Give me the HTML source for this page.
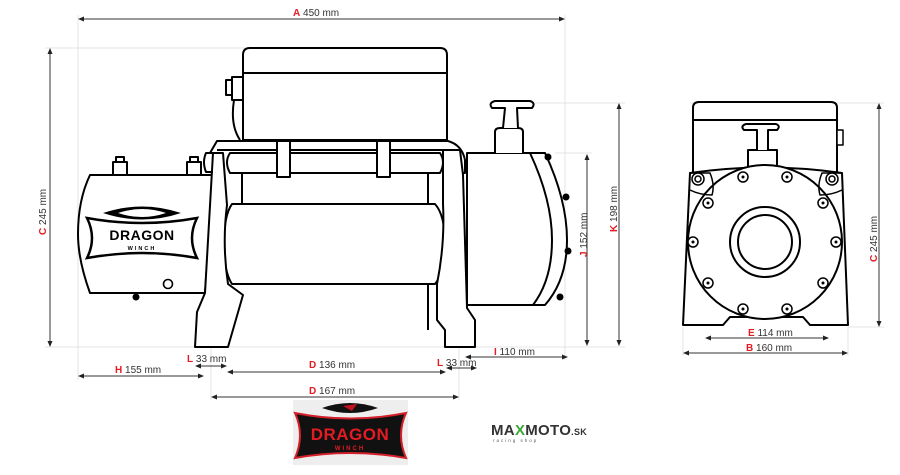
<!DOCTYPE html>
<html><head><meta charset="utf-8"><style>
html,body{margin:0;padding:0;background:#fff;}
svg{display:block;}
text{font-family:"Liberation Sans",sans-serif;}
</style></head><body>
<svg width="900" height="475" viewBox="0 0 900 475" xmlns="http://www.w3.org/2000/svg">
<defs>
<marker id="ar" markerWidth="6" markerHeight="6" refX="5" refY="3" orient="auto-start-reverse" markerUnits="userSpaceOnUse"><path d="M0,0.5 L6,3 L0,5.5 z" fill="#222"/></marker>
</defs>
<!-- extension lines -->
<g stroke="#ddd" stroke-width="0.8" fill="none">
<line x1="78" y1="15" x2="78" y2="380"/>
<line x1="565" y1="15" x2="565" y2="360"/>
<line x1="45" y1="48" x2="245" y2="48"/>
<line x1="45" y1="347" x2="625" y2="347"/>
<line x1="535" y1="103" x2="625" y2="103"/>
<line x1="555" y1="153" x2="592" y2="153"/>
<line x1="211" y1="347" x2="211" y2="400"/>
<line x1="459" y1="347" x2="459" y2="400"/>
<line x1="690" y1="103" x2="884" y2="103"/>
<line x1="848" y1="327" x2="884" y2="327"/>
<line x1="683" y1="327" x2="683" y2="356"/>
<line x1="848" y1="327" x2="848" y2="356"/>
</g>
<!-- dimension lines -->
<g stroke="#333" stroke-width="1" fill="none" marker-start="url(#ar)" marker-end="url(#ar)">
<line x1="79" y1="19" x2="564" y2="19"/>
<line x1="50" y1="49" x2="50" y2="346"/>
<line x1="587" y1="155" x2="587" y2="345"/>
<line x1="619" y1="104" x2="619" y2="345"/>
<line x1="322" y1="206" x2="322" y2="282"/>
<line x1="79" y1="376" x2="203" y2="376"/>
<line x1="196" y1="366" x2="226" y2="366"/>
<line x1="228" y1="372" x2="445" y2="372"/>
<line x1="447" y1="368" x2="476" y2="368"/>
<line x1="466" y1="357" x2="567" y2="357"/>
<line x1="212" y1="397" x2="458" y2="397"/>
<line x1="879" y1="104" x2="879" y2="326"/>
<line x1="706" y1="338" x2="828" y2="338"/>
<line x1="684" y1="353" x2="847" y2="353"/>
</g>
<!-- labels -->
<g font-size="10" fill="#333">
<text x="293" y="16"><tspan fill="#e31b23" font-weight="bold">A</tspan>  450 mm</text>
<text x="115" y="373"><tspan fill="#e31b23" font-weight="bold">H</tspan>  155 mm</text>
<text x="187" y="362"><tspan fill="#e31b23" font-weight="bold">L</tspan>  33 mm</text>
<text x="309" y="368"><tspan fill="#e31b23" font-weight="bold">D</tspan>  136 mm</text>
<text x="437" y="366"><tspan fill="#e31b23" font-weight="bold">L</tspan>  33 mm</text>
<text x="494" y="355"><tspan fill="#e31b23" font-weight="bold">I</tspan>  110 mm</text>
<text x="309" y="394"><tspan fill="#e31b23" font-weight="bold">D</tspan>  167 mm</text>
<text x="748" y="336"><tspan fill="#e31b23" font-weight="bold">E</tspan> 114 mm</text>
<text x="746" y="351"><tspan fill="#e31b23" font-weight="bold">B</tspan>  160 mm</text>
<text transform="translate(46,235) rotate(-90)"><tspan fill="#e31b23" font-weight="bold">C</tspan>  245 mm</text>
<text transform="translate(317,265) rotate(-90)"><tspan fill="#e31b23" font-weight="bold">G</tspan>  64 mm</text>
<text transform="translate(587,257) rotate(-90)"><tspan fill="#e31b23" font-weight="bold">J</tspan>  152 mm</text>
<text transform="translate(617,232) rotate(-90)"><tspan fill="#e31b23" font-weight="bold">K</tspan>  198 mm</text>
<text transform="translate(877,262) rotate(-90)"><tspan fill="#e31b23" font-weight="bold">C</tspan>  245 mm</text>
</g>
<!-- SIDE VIEW -->
<g stroke="#000" stroke-width="2" fill="#fff" stroke-linejoin="round">
<!-- motor box -->
<path d="M243,140 L243,55 Q243,48 250,48 L440,48 Q447,48 447,55 L447,140 Z"/>
<line x1="243" y1="73" x2="447" y2="73"/>
<rect x="232" y="77" width="11" height="23"/>
<rect x="226" y="80" width="6" height="15"/>
<path d="M234,100 Q230,125 240,140" fill="none"/>
<!-- left motor cylinder -->
<rect x="113" y="162" width="14" height="13"/><rect x="116" y="157" width="8" height="5"/>
<rect x="187" y="162" width="14" height="13"/><rect x="190" y="157" width="8" height="5"/>
<path d="M90,175 L213,175 L205,293 L90,293 Q78,260 78,234 Q78,200 90,175 Z"/>
<circle cx="168" cy="284" r="4.5" stroke-width="1.6"/>
<circle cx="136" cy="297" r="2.5" fill="#000"/>
<!-- gearbox right -->
<path d="M467,153 L545,153 Q567,200 567,240 Q567,280 545,305 L467,305 Z"/>
<path d="M530,153 Q552,200 552,240 Q552,280 533,305" fill="none"/>
<circle cx="566" cy="197" r="2.5" fill="#000"/><circle cx="568" cy="251" r="2.5" fill="#000"/><circle cx="560" cy="297" r="2.5" fill="#000"/><circle cx="548" cy="157" r="2.5" fill="#000"/>
<path d="M495,153 L495,132 Q495,128 500,128 L518,128 Q523,128 523,132 L523,153"/>
<path d="M503,128 L505,108 L492,108 Q488,103 495,101 L530,101 Q536,103 532,108 L517,108 L518,128"/>
<!-- frame top rail -->
<path d="M210,153 L217,141 L448,141 Q462,145 465,160 L465,173 L458,173"/>
<line x1="217" y1="150" x2="445" y2="150"/>
<!-- inner frame lines -->
<line x1="242" y1="173" x2="242" y2="205"/>
<line x1="428" y1="173" x2="428" y2="330"/>
<!-- drum -->
<path d="M232,204 L435,204 Q445,215 445,244 Q445,272 435,284 L232,284 Q224,272 224,244 Q224,215 232,204 Z"/>
<!-- left leg -->
<path d="M213,153 L223,153 L227,205 Q222,244 228,284 L243,295 L228,347 L195,347 L197,312 L205,293 Z"/>
<!-- right leg -->
<path d="M443,150 L460,150 L463,175 L467,308 L475,320 L475,347 L445,347 L445,330 L437,320 L437,284 Q445,244 443,204 Z"/>
<!-- cross tube -->
<path d="M230,153 L440,153 Q446,162 440,173 L230,173 Q224,162 230,153 Z"/>
<path d="M213,153 L206,153 Q202,162 206,172 L213,172" fill="none"/>
<rect x="277" y="141" width="13" height="36"/>
<rect x="377" y="141" width="13" height="36"/>
</g>
<!-- logo on motor -->
<g>
<path d="M103,213 Q142,200 181,213 Q142,226 103,213 Z" fill="#000"/>
<path d="M118,213 Q142,205 166,213 Q142,221 118,213 Z" fill="#fff"/>
<path d="M87,218 Q142,228 197,218 Q187,238 197,258 Q142,248 87,258 Q97,238 87,218 Z" fill="#fff" stroke="#000" stroke-width="2.5"/>
<text x="142" y="240" text-anchor="middle" font-size="14" font-weight="bold" letter-spacing="0.5">DRAGON</text>
<text x="142" y="250" text-anchor="middle" font-size="5.5" font-weight="bold" letter-spacing="2">WINCH</text>
</g>
<!-- FRONT VIEW -->
<g stroke="#000" stroke-width="2" fill="#fff" stroke-linejoin="round">
<path d="M693,172 L693,108 Q693,102 699,102 L831,102 Q837,102 837,108 L837,172"/>
<line x1="693" y1="120" x2="837" y2="120"/>
<rect x="837" y="130" width="6" height="15" stroke-width="1.5"/>
<path d="M690,173 Q766,162 842,173 L848,325 L810,325 L803,317 L730,317 L723,325 L683,325 Z"/>
<path d="M748,172 L748,150 L777,150 L777,172"/>
<path d="M757,150 L757,130 L744,130 Q740,126 746,124 L776,124 Q781,126 777,130 L768,130 L768,150"/>
<circle cx="765" cy="242" r="77"/>
<circle cx="765" cy="242" r="35"/>
<circle cx="765" cy="242" r="27"/>
<path d="M690,173 L710,173 Q715,185 712,195 Q700,195 690,190" fill="none" stroke-width="1.5"/>
<path d="M842,173 L822,173 Q817,185 820,195 Q832,195 842,190" fill="none" stroke-width="1.5"/>
</g>
<g stroke="#000" stroke-width="1.5" fill="#fff">
<circle cx="743" cy="177" r="5"/><circle cx="787" cy="177" r="5"/>
<circle cx="708" cy="203" r="5"/><circle cx="823" cy="203" r="5"/>
<circle cx="693" cy="242" r="5"/><circle cx="836" cy="242" r="5"/>
<circle cx="708" cy="283" r="5"/><circle cx="823" cy="283" r="5"/>
<circle cx="743" cy="309" r="5"/><circle cx="787" cy="309" r="5"/>
<circle cx="698" cy="179" r="6"/><circle cx="832" cy="179" r="6"/>
<circle cx="698" cy="179" r="3"/><circle cx="832" cy="179" r="3"/>
</g>
<g fill="#000">
<circle cx="743" cy="177" r="1.5"/><circle cx="787" cy="177" r="1.5"/><circle cx="708" cy="203" r="1.5"/><circle cx="823" cy="203" r="1.5"/><circle cx="693" cy="242" r="1.5"/><circle cx="836" cy="242" r="1.5"/><circle cx="708" cy="283" r="1.5"/><circle cx="823" cy="283" r="1.5"/><circle cx="743" cy="309" r="1.5"/><circle cx="787" cy="309" r="1.5"/>
</g>
<!-- red logo -->
<rect x="293" y="400" width="115" height="65" fill="#eeeeee"/>
<path d="M322,408 Q350,398 378,408 Q350,418 322,408 Z" fill="#111"/>
<path d="M343,406 L357,404 L352,411 Z" fill="#c1121f"/>
<path d="M295,413 Q350,424 406,413 Q396,435 406,458 Q350,448 295,458 Q305,435 295,413 Z" fill="#111" stroke="#d3202a" stroke-width="2"/>
<text x="350" y="440" text-anchor="middle" font-size="17" font-weight="bold" fill="#e31b23" letter-spacing="0.5">DRAGON</text>
<text x="350" y="450" text-anchor="middle" font-size="6" font-weight="bold" fill="#e31b23" letter-spacing="2">WINCH</text>
<!-- maxmoto -->
<text x="491" y="435" font-size="15" font-weight="bold" fill="#333" letter-spacing="0.3">MA<tspan fill="#3aaa35">X</tspan>MOTO<tspan font-size="9">.SK</tspan></text>
<text x="493" y="442" font-size="4.5" fill="#555" letter-spacing="2">racing shop</text>
</svg>
</body></html>
